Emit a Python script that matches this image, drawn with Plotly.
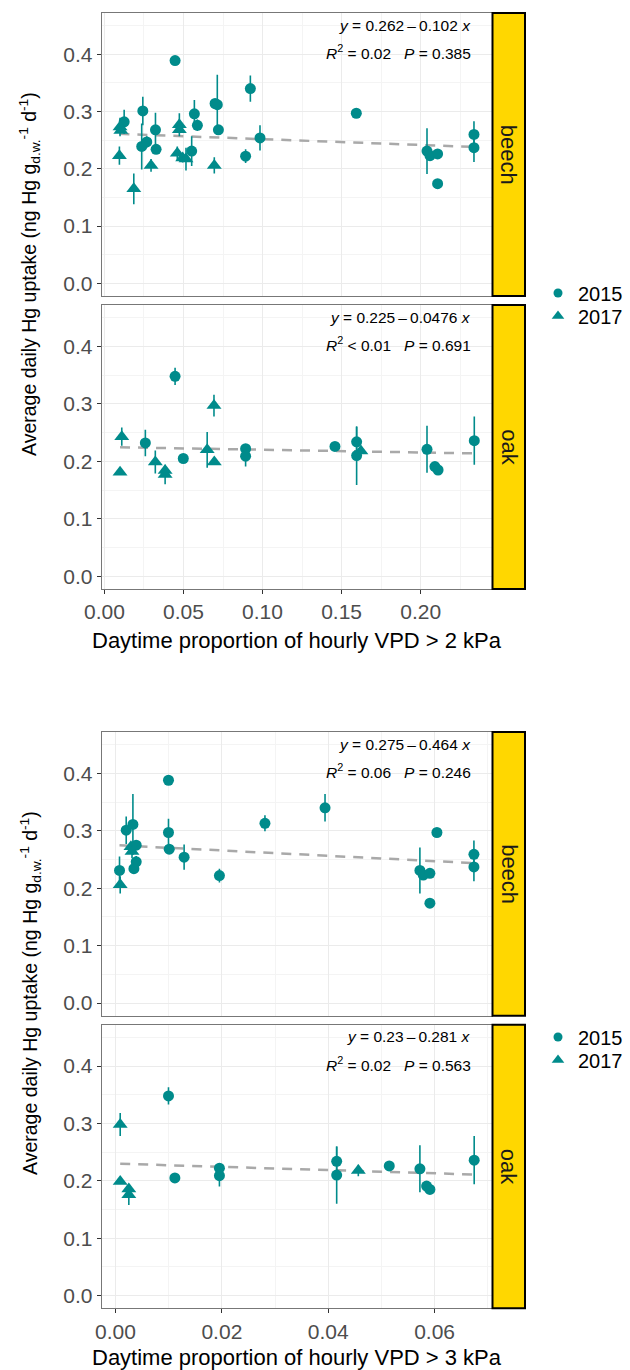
import plotly.graph_objects as go

# ---------------- data ----------------
# Top figure: Daytime proportion of hourly VPD > 2 kPa
vpd2_beech_2015_x = [0.0125, 0.0243, 0.0236, 0.0268, 0.0323, 0.0327, 0.0447, 0.0552, 0.0569, 0.0588, 0.0700, 0.0714,
                     0.0721, 0.0893, 0.0923, 0.0984, 0.1593, 0.2040, 0.2059, 0.2107, 0.2107, 0.2337, 0.2337]
vpd2_beech_2015_y = [0.282, 0.301, 0.239, 0.247, 0.268, 0.234, 0.389, 0.231, 0.296, 0.276, 0.314, 0.312,
                     0.268, 0.222, 0.340, 0.254, 0.297, 0.231, 0.223, 0.226, 0.174, 0.260, 0.237]
vpd2_beech_2015_e = [0.021, 0.025, 0.040, 0.010, 0.030, 0.008, 0.0, 0.026, 0.024, 0.010, 0.008, 0.052,
                     0.006, 0.012, 0.023, 0.022, 0.0, 0.040, 0.006, 0.006, 0.0, 0.023, 0.025]
vpd2_beech_2017_x = [0.0099, 0.0104, 0.0095, 0.0186, 0.0295, 0.0474, 0.0474, 0.0461, 0.0495, 0.0516, 0.0695]
vpd2_beech_2017_y = [0.273, 0.267, 0.223, 0.165, 0.206, 0.277, 0.268, 0.227, 0.219, 0.217, 0.206]
vpd2_beech_2017_e = [0.016, 0.0, 0.016, 0.027, 0.011, 0.020, 0.0, 0.012, 0.008, 0.020, 0.014]

vpd2_oak_2015_x = [0.0259, 0.0447, 0.0499, 0.0893, 0.0893, 0.1458, 0.1595, 0.1595, 0.2040, 0.2090, 0.2110, 0.2339]
vpd2_oak_2015_y = [0.232, 0.348, 0.205, 0.222, 0.209, 0.226, 0.234, 0.210, 0.221, 0.191, 0.185, 0.236]
vpd2_oak_2015_e = [0.023, 0.015, 0.0, 0.006, 0.018, 0.0, 0.026, 0.051, 0.041, 0.0, 0.0, 0.042]
vpd2_oak_2017_x = [0.0110, 0.0099, 0.0322, 0.0384, 0.0384, 0.0650, 0.0693, 0.0695, 0.1622]
vpd2_oak_2017_y = [0.243, 0.181, 0.199, 0.184, 0.177, 0.220, 0.297, 0.199, 0.218]
vpd2_oak_2017_e = [0.016, 0.0, 0.020, 0.0, 0.017, 0.031, 0.019, 0.0, 0.0]

# Bottom figure: Daytime proportion of hourly VPD > 3 kPa
vpd3_beech_2015_x = [0.00075, 0.00201, 0.00327, 0.00389, 0.00389, 0.00346, 0.00996, 0.00996, 0.0101, 0.0129,
                     0.01954, 0.0281, 0.0394, 0.05724, 0.05787, 0.05912, 0.05912, 0.06044, 0.0674, 0.0674]
vpd3_beech_2015_y = [0.231, 0.301, 0.311, 0.275, 0.246, 0.234, 0.388, 0.297, 0.268, 0.254,
                     0.222, 0.313, 0.340, 0.231, 0.223, 0.226, 0.174, 0.297, 0.259, 0.237]
vpd3_beech_2015_e = [0.024, 0.024, 0.053, 0.008, 0.010, 0.006, 0.0, 0.024, 0.006, 0.022,
                     0.012, 0.014, 0.024, 0.040, 0.006, 0.006, 0.0, 0.0, 0.024, 0.025]
vpd3_beech_2017_x = [0.00088, 0.0029, 0.0031]
vpd3_beech_2017_y = [0.206, 0.272, 0.264]
vpd3_beech_2017_e = [0.015, 0.0, 0.012]

vpd3_oak_2015_x = [0.00996, 0.01116, 0.01954, 0.01954, 0.04159, 0.04159, 0.05148, 0.05724, 0.0585, 0.05912, 0.06745]
vpd3_oak_2015_y = [0.348, 0.205, 0.222, 0.209, 0.234, 0.210, 0.226, 0.221, 0.191, 0.185, 0.236]
vpd3_oak_2015_e = [0.015, 0.0, 0.006, 0.019, 0.026, 0.050, 0.0, 0.041, 0.0, 0.0, 0.042]
vpd3_oak_2017_x = [0.00088, 0.00088, 0.0025, 0.0025, 0.04566]
vpd3_oak_2017_y = [0.298, 0.199, 0.186, 0.176, 0.218]
vpd3_oak_2017_e = [0.020, 0.0, 0.0, 0.018, 0.010]

# regression fits (intercept, slope) and labels
fit_intercepts = [0.262, 0.225, 0.275, 0.23]
fit_slopes = [-0.102, -0.0476, -0.464, -0.281]
fit_eq_labels = ["0.262", "0.102", "0.225", "0.0476", "0.275", "0.464", "0.23", "0.281"]
fit_r2_labels = ["= 0.02", "&lt; 0.01", "= 0.06", "= 0.02"]
fit_p_labels = ["0.385", "0.691", "0.246", "0.563"]

species = ["beech", "oak", "beech", "oak"]
years = ["2015", "2017"]
x_titles = ["Daytime proportion of hourly VPD &gt; 2 kPa", "Daytime proportion of hourly VPD &gt; 3 kPa"]
y_title = "Average daily Hg uptake (ng Hg g<sub>d.w.</sub><sup>-1</sup> d<sup>-1</sup>)"

# ---------------- layout helpers ----------------
W, H = 630, 1370
FONT = "Liberation Sans, Arial, sans-serif"
TEAL = "#008B8B"
SYMBOLS = ["circle", "triangle-up"]


def fx(p):
    return p / W


def fy(p):
    return 1 - p / H


PX0, PX1 = 101.7, 492.0
panel_y = [(13, 296), (305, 589), (732, 1015.7), (1024.7, 1308.3)]
x_ranges = [[-0.0017, 0.2451], [-0.0017, 0.2451], [-0.0026, 0.0708], [-0.0026, 0.0708]]
x_dticks = [0.05, 0.05, 0.02, 0.02]

panels_data = [
    [(vpd2_beech_2015_x, vpd2_beech_2015_y, vpd2_beech_2015_e), (vpd2_beech_2017_x, vpd2_beech_2017_y, vpd2_beech_2017_e)],
    [(vpd2_oak_2015_x, vpd2_oak_2015_y, vpd2_oak_2015_e), (vpd2_oak_2017_x, vpd2_oak_2017_y, vpd2_oak_2017_e)],
    [(vpd3_beech_2015_x, vpd3_beech_2015_y, vpd3_beech_2015_e), (vpd3_beech_2017_x, vpd3_beech_2017_y, vpd3_beech_2017_e)],
    [(vpd3_oak_2015_x, vpd3_oak_2015_y, vpd3_oak_2015_e), (vpd3_oak_2017_x, vpd3_oak_2017_y, vpd3_oak_2017_e)],
]

# one legend per (figure, year) so each entry sits where the reference has it
legend_ids = [["legend", "legend2"], ["legend3", "legend4"]]
legend_centers = {"legend": 293, "legend2": 316, "legend3": 1037, "legend4": 1060}

fig = go.Figure()
layout = {}
annotations = []
shapes = []

for i in range(4):
    n = "" if i == 0 else str(i + 1)
    xa, ya = "x" + n, "y" + n
    top, bot = panel_y[i]
    bottom_panel = i in (1, 3)
    layout["xaxis" + n] = dict(
        domain=[fx(PX0), fx(PX1)], anchor=ya, range=x_ranges[i], dtick=x_dticks[i], tick0=0,
        tickformat=".2f", showticklabels=bottom_panel, ticks="outside" if bottom_panel else "",
        ticklen=4, tickwidth=1, tickcolor="#333333", automargin=False,
        tickfont=dict(family=FONT, size=21, color="#4D4D4D"),
        showgrid=True, gridcolor="#EBEBEB", gridwidth=1,
        minor=dict(dtick=x_dticks[i] / 2, showgrid=True, gridcolor="#F4F4F4", gridwidth=0.6),
        showline=True, mirror=True, linecolor="#777777", linewidth=1, zeroline=False,
    )
    layout["yaxis" + n] = dict(
        domain=[fy(bot), fy(top)], anchor=xa, range=[-0.022, 0.472], dtick=0.1, tick0=0,
        tickformat=".1f", ticks="outside", ticklen=4, tickwidth=1, tickcolor="#333333", automargin=False,
        tickfont=dict(family=FONT, size=21, color="#4D4D4D"),
        showgrid=True, gridcolor="#EBEBEB", gridwidth=1,
        minor=dict(dtick=0.05, showgrid=True, gridcolor="#F4F4F4", gridwidth=0.6),
        showline=True, mirror=True, linecolor="#777777", linewidth=1, zeroline=False,
    )

    # regression line over data extent
    all_x = list(panels_data[i][0][0]) + list(panels_data[i][1][0])
    x0, x1 = min(all_x), max(all_x)
    fig.add_trace(go.Scatter(
        x=[x0, x1], y=[fit_intercepts[i] + fit_slopes[i] * x0, fit_intercepts[i] + fit_slopes[i] * x1],
        mode="lines", line=dict(color="#A9A9A9", width=2.5, dash="10px,8px"),
        xaxis=xa, yaxis=ya, showlegend=False, hoverinfo="skip"))

    for k, (xs, ys, es) in enumerate(panels_data[i]):
        fig.add_trace(go.Scatter(
            x=xs, y=ys, mode="markers", name=years[k],
            marker=dict(color=TEAL, size=11 if k == 0 else 13, symbol=SYMBOLS[k], line=dict(width=0)),
            error_y=dict(type="data", array=es, width=0, thickness=1.6, color=TEAL),
            xaxis=xa, yaxis=ya, showlegend=False))

    # strip
    shapes.append(dict(type="rect", xref="paper", yref="paper", x0=fx(492.5), x1=fx(525), y0=fy(bot), y1=fy(top),
                       fillcolor="#FFD700", line=dict(color="black", width=2), layer="above"))
    annotations.append(dict(text=species[i], xref="paper", yref="paper", x=fx(508.7), y=fy((top + bot) / 2),
                            textangle=90, showarrow=False, font=dict(family=FONT, size=22, color="#1A1A1A"),
                            xanchor="center", yanchor="middle"))
    # regression labels
    eq = "<i>y</i> = " + fit_eq_labels[2 * i] + "\u2009\u2013\u2009" + fit_eq_labels[2 * i + 1] + " <i>x</i>"
    r2 = "<i>R</i><sup>2</sup> " + fit_r2_labels[i] + "\u00a0\u00a0\u00a0<i>P</i> = " + fit_p_labels[i]
    annotations.append(dict(text=eq, xref="paper", yref="paper", x=fx(472.5), y=fy(top + 12),
                            xanchor="right", yanchor="middle", showarrow=False,
                            font=dict(family=FONT, size=15.5, color="black")))
    annotations.append(dict(text=r2, xref="paper", yref="paper", x=fx(472.5), y=fy(top + 39),
                            xanchor="right", yanchor="middle", showarrow=False,
                            font=dict(family=FONT, size=15.5, color="black")))

# legend-only entries (smaller key symbols, as in the reference)
for f in range(2):
    for k in range(2):
        fig.add_trace(go.Scatter(
            x=[None], y=[None], mode="markers", name=years[k],
            marker=dict(color=TEAL, size=9 if k == 0 else 11, symbol=SYMBOLS[k], line=dict(width=0)),
            xaxis="x" if f == 0 else "x3", yaxis="y" if f == 0 else "y3",
            legend=legend_ids[f][k], showlegend=True, hoverinfo="skip"))

# axis titles
for j, (xc_y, yc_y) in enumerate([(640, 274), (1357, 993)]):
    annotations.append(dict(text=x_titles[j], xref="paper", yref="paper", x=fx((PX0 + PX1) / 2), y=fy(xc_y),
                            xanchor="center", yanchor="middle", showarrow=False,
                            font=dict(family=FONT, size=22, color="black")))
    annotations.append(dict(text=y_title, xref="paper", yref="paper", x=fx(30), y=fy(yc_y),
                            textangle=-90, xanchor="center", yanchor="middle", showarrow=False,
                            font=dict(family=FONT, size=19.5, color="black")))

legend_common = dict(xanchor="left", yanchor="middle", bgcolor="rgba(0,0,0,0)", borderwidth=0,
                     font=dict(family=FONT, size=20, color="black"), tracegroupgap=0, itemsizing="trace")
legends = {lid: dict(x=fx(538), y=fy(yc), **legend_common) for lid, yc in legend_centers.items()}

fig.update_layout(
    width=W, height=H, margin=dict(l=0, r=0, t=0, b=0, pad=0, autoexpand=False),
    paper_bgcolor="white", plot_bgcolor="white",
    showlegend=True,
    annotations=annotations, shapes=shapes,
    **legends,
    **layout,
)

fig.write_html("out.html", config={"displayModeBar": False},
               post_script="document.body.style.margin='0';document.body.style.overflow='hidden';")
